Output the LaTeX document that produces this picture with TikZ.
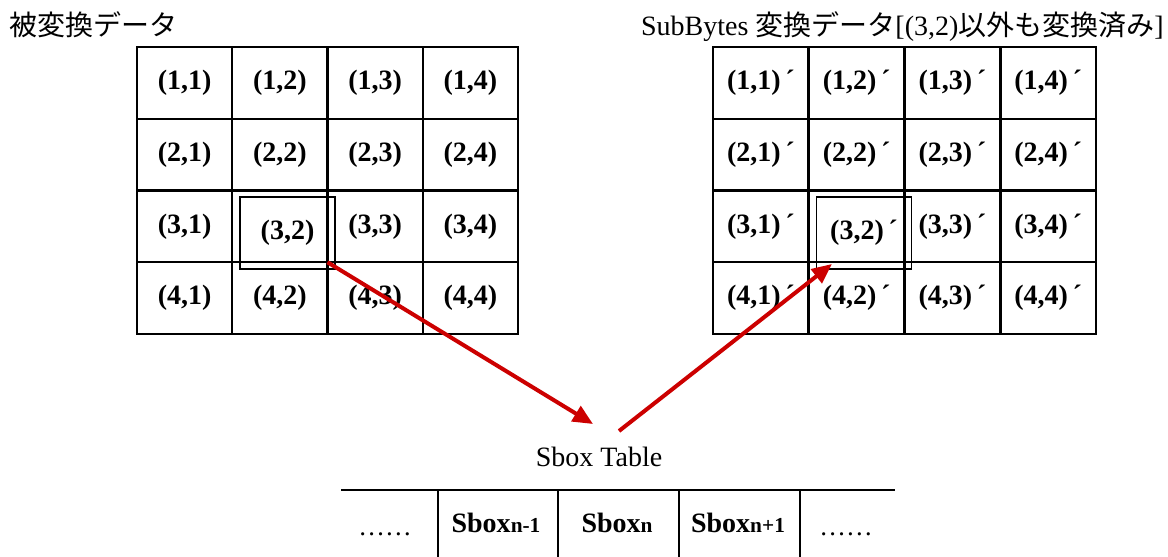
\documentclass[tikz,border=0pt]{standalone}
\usepackage{fontspec}
\setmainfont{Liberation Serif}
\newfontfamily\jp{Noto Sans CJK JP}
\usetikzlibrary{arrows.meta}
\definecolor{arrred}{RGB}{204,0,0}
\tikzset{
  cell/.style={draw,line width=1.5pt,inner sep=0pt,outer sep=0pt,minimum width=71.4pt,minimum height=53.8pt,font=\bfseries\fontsize{21}{25}\selectfont},
  hlbox/.style={draw,line width=1.1pt,inner sep=0pt,outer sep=0pt,minimum width=71.25pt,minimum height=54pt,font=\bfseries\fontsize{21}{25}\selectfont},
  title/.style={inner sep=0pt,font=\fontsize{21}{25}\selectfont},
  redarrow/.style={draw=arrred,line width=3pt,-{Triangle[length=15pt,width=13pt]}},
  tline/.style={line width=1.4pt},
  tcell/.style={inner sep=0pt,anchor=base,font=\bfseries\fontsize{21}{25}\selectfont}
}
\newcommand{\sboxsub}[1]{Sbox{\fontsize{16}{20}\selectfont #1}}
\begin{document}
\begin{tikzpicture}[x=0.75pt,y=-0.75pt]
\useasboundingbox (0,0) rectangle (1168,557);
% titles
\node[title,anchor=base west] (tl) at (9,35) {\jp 被変換データ};
\node[title,anchor=base east] (tr) at (1164,35) {SubBytes {\jp 変換データ}[(3,2){\jp 以外も変換済み}]};
% left grid
\foreach \r in {1,...,4}{\foreach \c in {1,...,4}{
  \pgfmathtruncatemacro\isx{(\r==3)&&(\c==2)}
  \node[cell] (L\r\c) at ({137+95.25*(\c-0.5)},{47+71.75*(\r-0.5)}) {\ifnum\isx=0 (\r,\c)\fi};
}}
\node[hlbox] (LH) at (287.5,233) {(3,2)};
% right grid
\foreach \r in {1,...,4}{\foreach \c in {1,...,4}{
  \pgfmathtruncatemacro\isx{(\r==3)&&(\c==2)}
  \node[cell] (R\r\c) at ({713+95.75*(\c-0.5)},{47+71.75*(\r-0.5)}) {\ifnum\isx=0 (\r,\c)\,´\fi};
}}
\node[hlbox] (RH) at (864,233) {(3,2)\,´};
% sbox table
\node[title,anchor=base] (st) at (599,466) {Sbox Table};
\coordinate (tA) at (341,490);
\coordinate (tB) at (895,490);
\coordinate (v1) at (438,490); \coordinate (w1) at (438,557);
\coordinate (v2) at (558,490); \coordinate (w2) at (558,557);
\coordinate (v3) at (679,490); \coordinate (w3) at (679,557);
\coordinate (v4) at (800,490); \coordinate (w4) at (800,557);
\draw[tline] (tA) -- (tB);
\draw[tline] (v1) -- (w1);
\draw[tline] (v2) -- (w2);
\draw[tline] (v3) -- (w3);
\draw[tline] (v4) -- (w4);
\node[tcell,font=\fontsize{20}{24}\selectfont] (d1) at (385,535) {……};
\node[tcell] (s1) at (496,532) {\sboxsub{n-1}};
\node[tcell] (s2) at (617,532) {\sboxsub{n}};
\node[tcell] (s3) at (738,532) {\sboxsub{n+1}};
\node[tcell,font=\fontsize{20}{24}\selectfont] (d2) at (846,535) {……};
% arrows
\coordinate (a1) at (593,424);
\coordinate (a2) at (619,431);
\coordinate (t2) at (832,264);
\draw[redarrow] (L32.south east) -- (a1);
\draw[redarrow] (a2) -- (t2);
\end{tikzpicture}
\end{document}
